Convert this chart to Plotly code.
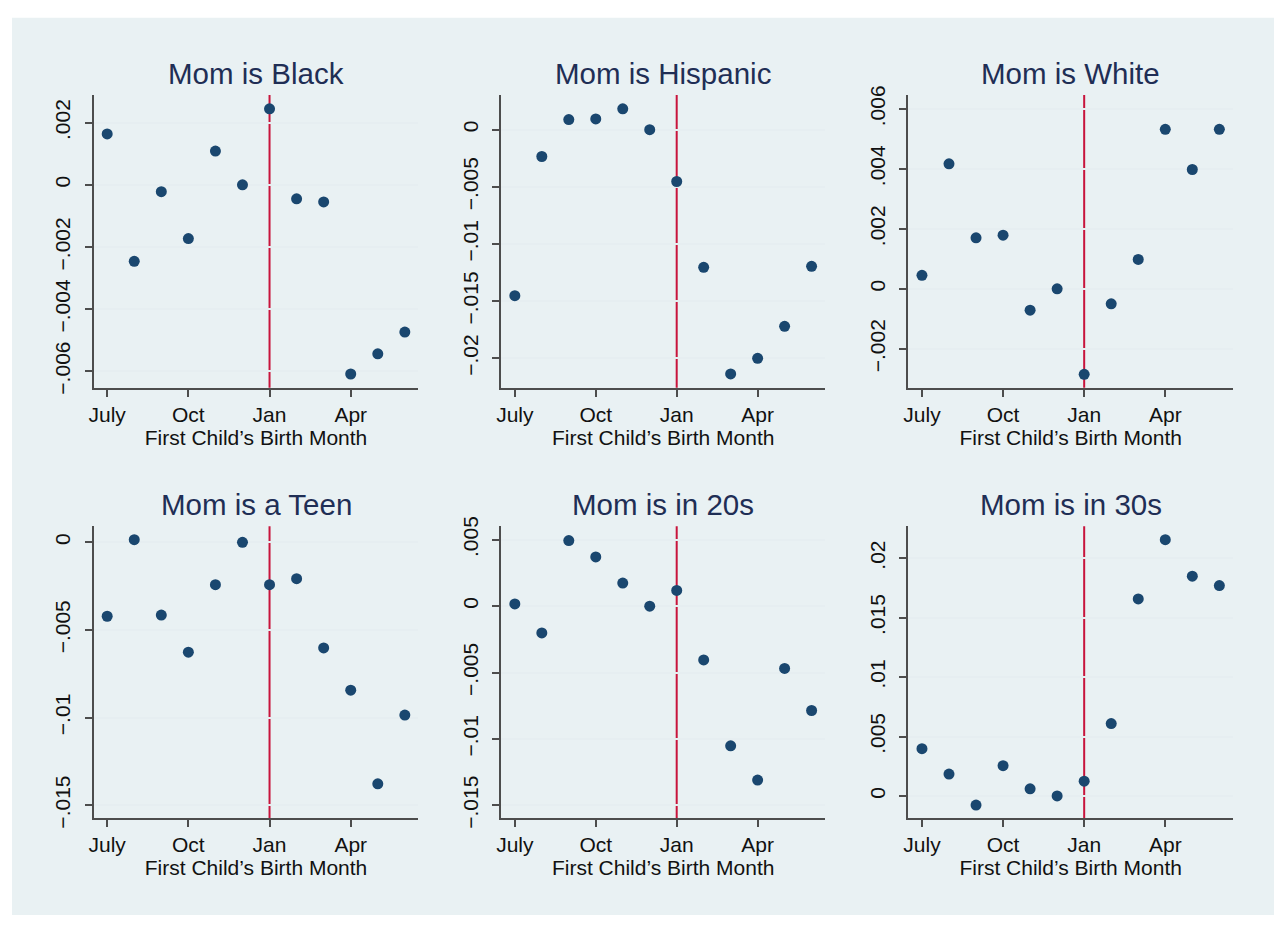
import plotly.graph_objects as go

# Months of the first child's birth, July through June
months = ["Jul", "Aug", "Sep", "Oct", "Nov", "Dec",
          "Jan", "Feb", "Mar", "Apr", "May", "Jun"]
month_ticks = [0, 3, 6, 9]
month_tick_text = ["July", "Oct", "Jan", "Apr"]
cutoff_month = "Jan"

titles = ["Mom is Black", "Mom is Hispanic", "Mom is White",
          "Mom is a Teen", "Mom is in 20s", "Mom is in 30s"]

black = [0.00164, -0.00246, -0.00022, -0.00173, 0.00109, 0.0,
         0.00245, -0.00045, -0.00055, -0.00609, -0.00544, -0.00474]
hispanic = [-0.01453, -0.00235, 0.00088, 0.00094, 0.00182, 0.0,
            -0.00454, -0.01205, -0.02138, -0.02001, -0.01721, -0.01196]
white = [0.00045, 0.00417, 0.00170, 0.00179, -0.00071, 0.0,
         -0.00285, -0.00050, 0.00098, 0.00532, 0.00398, 0.00532]
teen = [-0.00422, 0.00015, -0.00415, -0.00627, -0.00242, 0.0,
        -0.00242, -0.00208, -0.00603, -0.00844, -0.01378, -0.00986]
twenties = [0.00017, -0.00202, 0.00494, 0.00371, 0.00174, 0.0,
            0.00118, -0.00405, -0.01052, -0.01310, -0.00469, -0.00786]
thirties = [0.00398, 0.00184, -0.00077, 0.00255, 0.00060, 0.0,
            0.00124, 0.00609, 0.01657, 0.02156, 0.01849, 0.01770]

series = [black, hispanic, white, teen, twenties, thirties]

ytick_vals = [
    [-0.006, -0.004, -0.002, 0.0, 0.002],
    [-0.02, -0.015, -0.01, -0.005, 0.0],
    [-0.002, 0.0, 0.002, 0.004, 0.006],
    [-0.015, -0.01, -0.005, 0.0],
    [-0.015, -0.01, -0.005, 0.0, 0.005],
    [0.0, 0.005, 0.01, 0.015, 0.02],
]
ytick_text = [
    ["\u2212.006", "\u2212.004", "\u2212.002", "0", ".002"],
    ["\u2212.02", "\u2212.015", "\u2212.01", "\u2212.005", "0"],
    ["\u2212.002", "0", ".002", ".004", ".006"],
    ["\u2212.015", "\u2212.01", "\u2212.005", "0"],
    ["\u2212.015", "\u2212.01", "\u2212.005", "0", ".005"],
    ["0", ".005", ".01", ".015", ".02"],
]
y_ranges = [
    [-0.00653, 0.00289],
    [-0.02258, 0.00302],
    [-0.003295, 0.00646],
    [-0.01574, 0.00091],
    [-0.01597, 0.006013],
    [-0.001868, 0.022683],
]

# ---- layout geometry (pixels) ----
W, H = 1276, 927
col_px = [(89, 415), (498.3, 823.3), (907, 1232.7)]
row_px = [(87, 386), (527.7, 826)]
title_offset = 22  # px above plot area top

FONT = "Liberation Sans, Arial, Helvetica, sans-serif"
BG = "#E9F1F3"
GRID = "#E6EEF1"
AXIS = "#4D4D4D"
NAVY = "#1A476F"
RED = "#C8143C"
TITLE_COLOR = "#1F2E55"

fig = go.Figure()
x_idx = list(range(len(months)))
cut_x = months.index(cutoff_month)

annotations = []
shapes = [dict(type="rect", xref="paper", yref="paper",
               x0=7 / W, x1=1274 / W, y0=1 - 925 / H, y1=1 - 8 / H,
               fillcolor=BG, line=dict(width=0), layer="below")]

for i, (vals, title) in enumerate(zip(series, titles)):
    r, c = divmod(i, 3)
    n = i + 1
    xa = "x" if n == 1 else f"x{n}"
    ya = "y" if n == 1 else f"y{n}"
    x0, x1 = col_px[c]
    y0, y1 = row_px[r]

    fig.add_trace(go.Scatter(
        x=x_idx, y=vals, mode="markers", xaxis=xa, yaxis=ya,
        marker=dict(size=11, color=NAVY, line=dict(width=0)),
        showlegend=False, hoverinfo="skip"))

    axis_common = dict(
        showline=True, linecolor=AXIS, linewidth=2,
        ticks="outside", ticklen=7, tickwidth=1.5, tickcolor=AXIS,
        tickfont=dict(family=FONT, size=21, color="#111111"),
        zeroline=False, fixedrange=True,
    )
    fig.update_layout({
        f"xaxis{'' if n == 1 else n}": dict(
            domain=[x0 / W, x1 / W], anchor=ya,
            range=[-0.5, 11.5], tickmode="array",
            tickvals=month_ticks, ticktext=month_tick_text,
            showgrid=False,
            title=dict(text="First Child\u2019s Birth Month",
                       font=dict(family=FONT, size=21, color="#111111"),
                       standoff=0),
            **axis_common),
        f"yaxis{'' if n == 1 else n}": dict(
            domain=[1 - y1 / H, 1 - y0 / H], anchor=xa,
            range=y_ranges[i], tickmode="array",
            tickvals=ytick_vals[i], ticktext=ytick_text[i],
            tickangle=-90, ticklabelstandoff=6,
            showgrid=True, gridcolor=GRID, gridwidth=2,
            **axis_common),
    })

    shapes.append(dict(type="line", xref=xa, yref=f"{ya} domain",
                       x0=cut_x, x1=cut_x, y0=0, y1=1,
                       line=dict(color=RED, width=2), layer="below"))

    annotations.append(dict(
        text=title, xref="paper", yref="paper",
        x=(x0 + x1) / 2 / W, y=1 - (y0 - title_offset) / H,
        xanchor="center", yanchor="middle", showarrow=False,
        font=dict(family=FONT, size=29.5, color=TITLE_COLOR)))

fig.update_layout(
    width=W, height=H,
    margin=dict(l=0, r=0, t=0, b=0),
    paper_bgcolor="white", plot_bgcolor="white",
    shapes=shapes, annotations=annotations,
    font=dict(family=FONT),
)

fig.write_html("out.html", config={"displayModeBar": False})
